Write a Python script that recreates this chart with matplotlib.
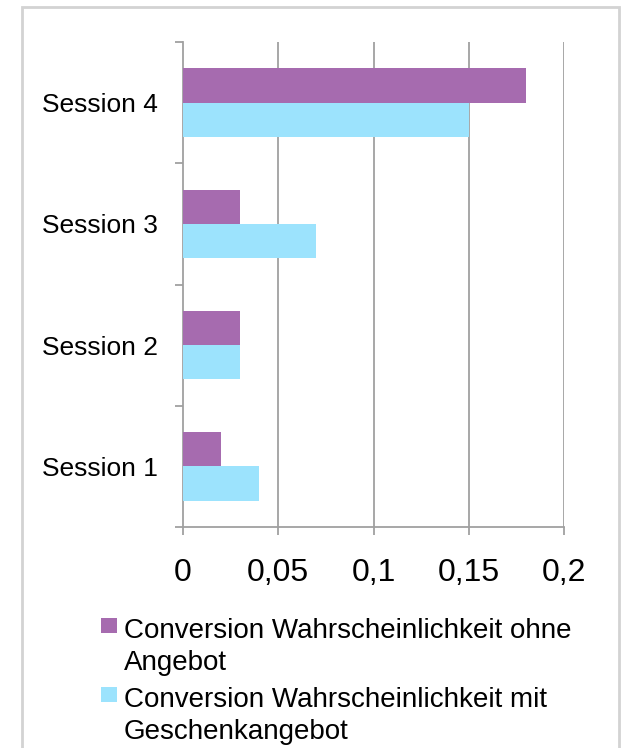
import numpy as np
import matplotlib
matplotlib.use('Agg')
import matplotlib.pyplot as plt
from matplotlib.patches import Rectangle

plt.rcParams['font.family'] = ['Liberation Sans', 'DejaVu Sans']

# data
sessions = ['Session 1', 'Session 2', 'Session 3', 'Session 4']
ohne_angebot = [0.02, 0.03, 0.03, 0.18]
mit_geschenk = [0.04, 0.03, 0.07, 0.15]
x_ticks = [0, 0.05, 0.1, 0.15, 0.2]
x_labels = ['0', '0,05', '0,1', '0,15', '0,2']
legend_labels = ['Conversion Wahrscheinlichkeit ohne\nAngebot',
                 'Conversion Wahrscheinlichkeit mit\nGeschenkangebot']
colors = ['#A66BAF', '#9CE3FD']

W, H = 621, 748
fig = plt.figure(figsize=(W / 100, H / 100), dpi=100)

# outer frame
fig.patches.append(Rectangle((22 / W, -0.05), (619 - 22) / W, 1.05 - 7 / H,
                             transform=fig.transFigure, fill=False,
                             edgecolor='#D3D3D3', linewidth=2))

ax = fig.add_axes([183 / W, 1 - 527 / H, 381 / W, 485 / H])

y = np.arange(len(sessions))
h = 0.283
ax.barh(y + h / 2, ohne_angebot, height=h, color=colors[0], zorder=3)
ax.barh(y - h / 2, mit_geschenk, height=h, color=colors[1], zorder=3)

ax.set_xlim(0, 0.2)
ax.set_ylim(-0.5, len(sessions) - 0.5)

# gridlines
for xv in x_ticks[1:]:
    ax.axvline(xv, color='#A0A0A0', linewidth=1.3, zorder=1)

for s in ['top', 'right']:
    ax.spines[s].set_visible(False)
for s in ['left', 'bottom']:
    ax.spines[s].set_color('#A0A0A0')
    ax.spines[s].set_linewidth(1.3)

ax.set_xticks(x_ticks)
ax.set_xticklabels(x_labels, fontsize=23)
ax.tick_params(axis='x', direction='out', length=6, width=1.3,
               color='#A0A0A0', pad=16)

ax.set_yticks(y)
ax.set_yticklabels(sessions, fontsize=19)
ax.set_yticks(np.arange(-0.5, len(sessions)), minor=True)
ax.tick_params(axis='y', which='major', length=0, pad=18)
ax.tick_params(axis='y', which='minor', direction='out', length=6,
               width=1.3, color='#A0A0A0')

# legend (text baseline given for the last line)
leg_y = [618, 687]
leg_base = [670, 739]
for i, lab in enumerate(legend_labels):
    fig.patches.append(Rectangle((101 / W, 1 - (leg_y[i] + 15) / H), 16 / W,
                                 15 / H, transform=fig.transFigure,
                                 facecolor=colors[i], edgecolor='none'))
    fig.text(124 / W, 1 - leg_base[i] / H, lab, fontsize=20,
             va='baseline', ha='left', linespacing=1.3)

plt.savefig('out.png', dpi=100)
plt.close()
